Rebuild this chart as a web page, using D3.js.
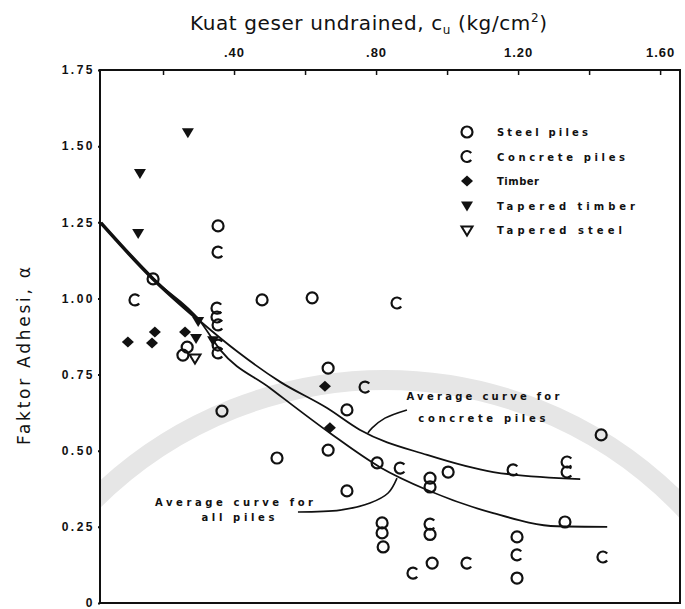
<!DOCTYPE html>
<html>
<head>
<meta charset="utf-8">
<script src="https://cdn.jsdelivr.net/npm/d3@7"></script>
<style>
  body { margin: 0; background: #fff; }
  svg { display: block; font-family: "DejaVu Sans", sans-serif; }
  .lbl { font-weight: bold; font-size: 10px; fill: #111; }
</style>
</head>
<body>
<div id="chart"></div>
<script>
/*--------------------------------------*
 *---------------- Data ----------------*
 *--------------------------------------*/

// [cu (kg/cm2), alpha]
const steelPiles = [
    [0.355, 1.238], [0.172, 1.064], [0.479, 0.995], [0.620, 1.002],
    [0.268, 0.840], [0.256, 0.814], [0.366, 0.630], [0.665, 0.771],
    [0.718, 0.634], [0.665, 0.502], [0.521, 0.476], [0.803, 0.460],
    [0.952, 0.410], [0.952, 0.381], [1.003, 0.430], [0.718, 0.368],
    [0.817, 0.263], [0.817, 0.230], [0.820, 0.184], [0.952, 0.225],
    [0.958, 0.131], [1.434, 0.552], [1.332, 0.266], [1.197, 0.217],
    [1.197, 0.082]
];
const concretePiles = [
    [0.355, 1.152], [0.121, 0.995], [0.859, 0.985], [0.352, 0.968],
    [0.352, 0.939], [0.355, 0.913], [0.355, 0.847], [0.355, 0.821],
    [0.769, 0.709], [0.868, 0.443], [0.952, 0.259], [0.904, 0.098],
    [1.056, 0.131], [1.186, 0.437], [1.338, 0.463], [1.338, 0.430],
    [1.197, 0.158], [1.439, 0.151]
];
const timberPiles = [
    [0.101, 0.857], [0.177, 0.890], [0.169, 0.854], [0.262, 0.890],
    [0.656, 0.712], [0.670, 0.575]
];
const taperedTimber = [
    [0.270, 1.546], [0.135, 1.412], [0.130, 1.215], [0.299, 0.926],
    [0.293, 0.870], [0.341, 0.863]
];
const taperedSteel = [
    [0.290, 0.804]
];

// Average curves
const allPilesCurve = [
    [0.025, 1.248], [0.172, 1.064], [0.304, 0.926], [0.361, 0.831],
    [0.501, 0.706], [0.670, 0.558], [0.811, 0.446], [0.944, 0.371],
    [1.130, 0.295], [1.310, 0.252], [1.451, 0.250]
];
const concreteCurve = [
    [0.025, 1.248], [0.172, 1.064], [0.304, 0.926], [0.411, 0.824],
    [0.530, 0.726], [0.662, 0.640], [0.755, 0.568], [0.944, 0.486],
    [1.130, 0.430], [1.375, 0.407]
];
const concreteLeader = [[0.887, 0.634], [0.825, 0.607], [0.789, 0.575], [0.777, 0.558]];
const allPilesLeader = [[0.580, 0.299], [0.699, 0.305], [0.783, 0.328], [0.834, 0.361], [0.859, 0.410]];

// Axes
const xTicksMinor = [0.2, 0.4, 0.6, 0.8, 1.0, 1.2, 1.4, 1.6];
const xTickValues = [0.4, 0.8, 1.2, 1.6];
const xTickLabels = ['.40', '.80', '1.20', '1.60'];
const yTickValues = [0, 0.25, 0.5, 0.75, 1.0, 1.25, 1.5, 1.75];
const yTickLabels = ['0', '0.25', '0.50', '0.75', '1.00', '1.25', '1.50', '1.75'];

const legendNames = ['Steel piles', 'Concrete piles', 'Timber', 'Tapered timber', 'Tapered steel'];
const legendWidths = [91, 128, 42, 138, 125];

/*--------------------------------------*
 *------------- Set up -----------------*
 *--------------------------------------*/

const W = 685, H = 609;
const margin = { top: 70, right: 5, bottom: 6, left: 100 };

const svg = d3.select('#chart').append('svg')
    .attr('width', W)
    .attr('height', H);

const xScale = d3.scaleLinear().domain([0.0225, 1.656]).range([margin.left, W - margin.right]);
const yScale = d3.scaleLinear().domain([0, 1.75]).range([H - margin.bottom, margin.top]);

const pt = d => [xScale(d[0]), yScale(d[1])];

// faint watermark arc behind everything
svg.append('clipPath').attr('id', 'plotclip')
    .append('rect')
    .attr('x', margin.left).attr('y', margin.top)
    .attr('width', W - margin.right - margin.left)
    .attr('height', H - margin.bottom - margin.top);

svg.append('g').attr('clip-path', 'url(#plotclip)')
    .append('circle')
    .attr('cx', 385).attr('cy', 793).attr('r', 413)
    .attr('fill', 'none').attr('stroke', '#e6e6e6').attr('stroke-width', 20);

/*--------------------------------------*
 *-------------- Frame/axes ------------*
 *--------------------------------------*/

svg.append('rect')
    .attr('x', margin.left).attr('y', margin.top)
    .attr('width', W - margin.right - margin.left)
    .attr('height', H - margin.bottom - margin.top)
    .attr('fill', 'none').attr('stroke', '#111').attr('stroke-width', 2);

// top axis: minor ticks inward, sparse labels
const topAxis = d3.axisTop(xScale)
    .tickValues(xTicksMinor)
    .tickSize(-5)
    .tickPadding(13)
    .tickFormat(v => {
        const i = xTickValues.findIndex(t => Math.abs(t - v) < 1e-6);
        return i < 0 ? '' : xTickLabels[i];
    });
const gTop = svg.append('g')
    .attr('transform', 'translate(0,' + margin.top + ')')
    .call(topAxis);
gTop.select('.domain').remove();
gTop.selectAll('line').attr('stroke', '#111').attr('stroke-width', 1.5);
gTop.selectAll('text')
    .style('font-size', '13px').style('font-weight', 'bold')
    .style('letter-spacing', '1px').attr('fill', '#111');

const leftAxis = d3.axisLeft(yScale)
    .tickValues(yTickValues)
    .tickSize(2)
    .tickPadding(3)
    .tickFormat((v, i) => yTickLabels[i]);
const gLeft = svg.append('g')
    .attr('transform', 'translate(' + margin.left + ',0)')
    .call(leftAxis);
gLeft.select('.domain').remove();
gLeft.selectAll('line').attr('stroke', '#111').attr('stroke-width', 2);
gLeft.selectAll('text')
    .style('font-size', '12px').style('font-weight', 'bold')
    .style('letter-spacing', '2.5px').attr('fill', '#111');

// axis titles
const title = svg.append('text')
    .attr('x', 190).attr('y', 30)
    .style('font-family', '"DejaVu Sans", sans-serif')
    .style('font-size', '20px')
    .style('letter-spacing', '0.6px')
    .attr('fill', '#111');
title.append('tspan').text('Kuat geser undrained, c');
title.append('tspan').attr('dy', 4).style('font-size', '12px').text('u');
title.append('tspan').attr('dy', -4).text(' (kg/cm');
title.append('tspan').attr('dy', -8).style('font-size', '12px').text('2');
title.append('tspan').attr('dy', 8).text(')');

svg.append('text')
    .attr('transform', 'translate(30,356) rotate(-90)')
    .attr('text-anchor', 'middle')
    .attr('textLength', 178).attr('lengthAdjust', 'spacing')
    .style('font-size', '17px')
    .attr('fill', '#111')
    .text('Faktor Adhesi, \u03B1');

/*--------------------------------------*
 *--------------- Curves ---------------*
 *--------------------------------------*/

const curveLine = d3.line()
    .x(d => xScale(d[0]))
    .y(d => yScale(d[1]))
    .curve(d3.curveMonotoneX);
const leaderLine = d3.line()
    .x(d => xScale(d[0]))
    .y(d => yScale(d[1]))
    .curve(d3.curveCatmullRom);

svg.append('path').attr('d', curveLine(allPilesCurve.slice(0, 3)))
    .attr('fill', 'none').attr('stroke', '#111').attr('stroke-width', 3.6);
[allPilesCurve, concreteCurve].forEach(c => {
    svg.append('path').attr('d', curveLine(c))
        .attr('fill', 'none').attr('stroke', '#111').attr('stroke-width', 1.8);
});
[concreteLeader, allPilesLeader].forEach(c => {
    svg.append('path').attr('d', leaderLine(c))
        .attr('fill', 'none').attr('stroke', '#111').attr('stroke-width', 1.6);
});

// curve annotations
function note(x, y, txt, len) {
    svg.append('text')
        .attr('class', 'lbl')
        .attr('x', xScale(x)).attr('y', yScale(y))
        .attr('text-anchor', 'middle')
        .attr('textLength', len).attr('lengthAdjust', 'spacing')
        .text(txt);
}
note(1.101, 0.666, 'Average curve for', 153);
note(1.098, 0.594, 'concrete piles', 127);
note(0.400, 0.318, 'Average curve for', 158);
note(0.411, 0.269, 'all piles', 73);

/*--------------------------------------*
 *--------------- Markers --------------*
 *--------------------------------------*/

const R = 5.5;
const a = 40 * Math.PI / 180;
const shapes = {
    steel: { fill: 'none', sw: 2.2 },
    concrete: { fill: 'none', sw: 2.2 },
    timber: { fill: '#111', sw: 0 },
    tTimber: { fill: '#111', sw: 0 },
    tSteel: { fill: 'none', sw: 2 }
};
shapes.steel.d = 'M' + R + ',0A' + R + ',' + R + ' 0 1,1 ' + (-R) + ',0A' + R + ',' + R + ' 0 1,1 ' + R + ',0Z';
shapes.concrete.d = 'M' + (R * Math.cos(a)) + ',' + (-R * Math.sin(a)) +
    'A' + R + ',' + R + ' 0 1,0 ' + (R * Math.cos(a)) + ',' + (R * Math.sin(a));
shapes.timber.d = 'M0,-5.5L6,0L0,5.5L-6,0Z';
shapes.tTimber.d = 'M-6,-4L6,-4L0,6Z';
shapes.tSteel.d = 'M-5.5,-3.5L5.5,-3.5L0,5.5Z';

function drawMarkers(data, key) {
    const s = shapes[key];
    svg.append('g').selectAll('path')
        .data(data)
        .join('path')
        .attr('transform', d => 'translate(' + pt(d) + ')')
        .attr('d', s.d)
        .attr('fill', s.fill)
        .attr('stroke', '#111')
        .attr('stroke-width', s.sw);
}

drawMarkers(steelPiles, 'steel');
drawMarkers(concretePiles, 'concrete');
drawMarkers(timberPiles, 'timber');
drawMarkers(taperedTimber, 'tTimber');
drawMarkers(taperedSteel, 'tSteel');

/*--------------------------------------*
 *---------------- Legend --------------*
 *--------------------------------------*/

const legendKeys = ['steel', 'concrete', 'timber', 'tTimber', 'tSteel'];
const legend = svg.append('g').attr('transform', 'translate(467,132)');
legendKeys.forEach((k, i) => {
    const s = shapes[k];
    const row = legend.append('g').attr('transform', 'translate(0,' + (i * 24.5) + ')');
    row.append('path')
        .attr('d', s.d)
        .attr('fill', s.fill)
        .attr('stroke', '#111')
        .attr('stroke-width', s.sw);
    row.append('text')
        .attr('class', 'lbl')
        .attr('x', 30).attr('y', 4)
        .attr('textLength', legendWidths[i]).attr('lengthAdjust', 'spacing')
        .text(legendNames[i]);
});
</script>
</body>
</html>
